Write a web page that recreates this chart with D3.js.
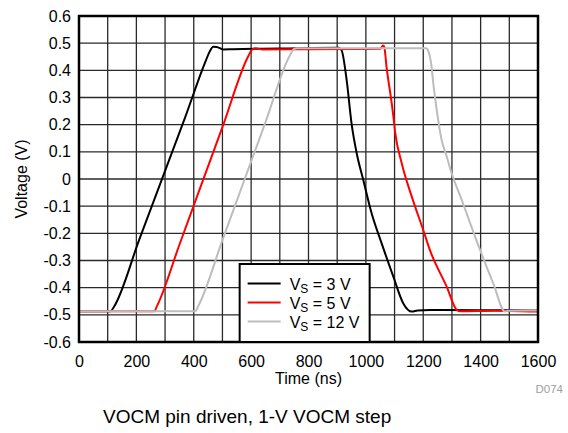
<!DOCTYPE html>
<html>
<head>
<meta charset="utf-8">
<script src="https://cdn.jsdelivr.net/npm/d3@7"></script>
<style>
  html, body { margin: 0; padding: 0; background: #fff; }
  svg { display: block; font-family: "Liberation Sans", Arial, sans-serif; }
</style>
</head>
<body>
<svg id="chart" width="568" height="433"></svg>
<script>
// ---- data ----
const seriesNames = ["3 V", "5 V", "12 V"];
const seriesColors = ["#000000", "#ff0000", "#bdbdbd"];

const time3V = [0, 110, 122, 210, 300, 370, 440, 455, 468, 480, 503, 537, 700, 905, 915, 933, 950, 968, 991, 1020, 1055, 1096, 1130, 1160, 1180, 1223, 1400, 1600];
const volt3V = [-0.487, -0.487, -0.47, -0.223, 0.03, 0.227, 0.43, 0.468, 0.487, 0.486, 0.477, 0.478, 0.48, 0.483, 0.475, 0.364, 0.205, 0.095, -0.004, -0.126, -0.237, -0.36, -0.457, -0.488, -0.484, -0.482, -0.483, -0.484];

const time5V = [0, 262, 273, 350, 500, 590, 603, 615, 640, 800, 1050, 1060, 1064, 1072, 1090, 1096, 1101, 1125, 1160, 1200, 1223, 1282, 1317, 1330, 1450, 1600];
const volt5V = [-0.487, -0.487, -0.465, -0.242, 0.191, 0.452, 0.476, 0.481, 0.477, 0.478, 0.479, 0.491, 0.487, 0.413, 0.279, 0.229, 0.18, 0.058, -0.065, -0.188, -0.261, -0.397, -0.482, -0.487, -0.485, -0.488];

const time12V = [0, 405, 417, 500, 650, 735, 749, 760, 1000, 1210, 1218, 1229, 1235, 1247, 1264, 1282, 1299, 1334, 1398, 1444, 1485, 1495, 1600];
const volt12V = [-0.487, -0.487, -0.465, -0.225, 0.209, 0.455, 0.478, 0.481, 0.481, 0.481, 0.47, 0.413, 0.352, 0.254, 0.144, 0.082, 0.021, -0.077, -0.261, -0.384, -0.488, -0.485, -0.484];

const xTicks = [0, 200, 400, 600, 800, 1000, 1200, 1400, 1600];
const xGrid = [100, 200, 300, 400, 500, 600, 700, 800, 900, 1000, 1100, 1200, 1300, 1400, 1500];
const yTicks = [0.6, 0.5, 0.4, 0.3, 0.2, 0.1, 0, -0.1, -0.2, -0.3, -0.4, -0.5, -0.6];
const yTickLabels = ["0.6", "0.5", "0.4", "0.3", "0.2", "0.1", "0", "-0.1", "-0.2", "-0.3", "-0.4", "-0.5", "-0.6"];

const xTitle = "Time (ns)";
const yTitle = "Voltage (V)";
const caption = "VOCM pin driven, 1-V VOCM step";
const code = "D074";

// ---- layout ----
const W = 568, H = 433;
const margin = { left: 79, top: 16, right: 30, bottom: 91 };
const pw = W - margin.left - margin.right;
const ph = H - margin.top - margin.bottom;

const svg = d3.select("#chart");
const g = svg.append("g").attr("transform", `translate(${margin.left},${margin.top})`);

const x = d3.scaleLinear().domain([0, 1600]).range([0, pw]);
const y = d3.scaleLinear().domain([-0.6, 0.6]).range([ph, 0]);

// grid
g.append("g").selectAll("line.vg").data(xGrid).join("line")
  .attr("x1", d => x(d)).attr("x2", d => x(d))
  .attr("y1", 0).attr("y2", ph)
  .attr("stroke", "#2a2a2a").attr("stroke-width", 1.3);
g.append("g").selectAll("line.hg").data(yTicks.filter(v => v > -0.6 && v < 0.6)).join("line")
  .attr("x1", 0).attr("x2", pw)
  .attr("y1", d => y(d)).attr("y2", d => y(d))
  .attr("stroke", "#2a2a2a").attr("stroke-width", 1.3);

// axes (labels only)
const xAxis = g.append("g").attr("transform", `translate(0,${ph})`)
  .call(d3.axisBottom(x).tickValues(xTicks).tickSize(0).tickPadding(14).tickFormat(d3.format("d")));
const yAxis = g.append("g")
  .call(d3.axisLeft(y).tickValues(yTicks).tickSize(0).tickPadding(8)
    .tickFormat((d, i) => yTickLabels[i]));
[xAxis, yAxis].forEach(a => {
  a.select(".domain").remove();
  a.selectAll("text").attr("font-size", 16).attr("fill", "#000")
    .attr("font-family", "'Liberation Sans', Arial, sans-serif");
});

// series
const line = d3.line().x(d => x(d[0])).y(d => y(d[1])).curve(d3.curveMonotoneX);
const allSeries = [
  d3.zip(time3V, volt3V),
  d3.zip(time5V, volt5V),
  d3.zip(time12V, volt12V)
];
allSeries.forEach((s, i) => {
  g.append("path").datum(s)
    .attr("d", line)
    .attr("fill", "none")
    .attr("stroke", seriesColors[i])
    .attr("stroke-width", 2)
    .attr("stroke-linejoin", "round");
});

// frame
g.append("rect").attr("x", 0).attr("y", 0).attr("width", pw).attr("height", ph)
  .attr("fill", "none").attr("stroke", "#000").attr("stroke-width", 2.5);

// legend
const lg = g.append("g").attr("transform", `translate(${x(560)},${ph - 78})`);
lg.append("rect").attr("x", 0).attr("y", 0).attr("width", 130).attr("height", 78)
  .attr("fill", "#fff").attr("stroke", "#000").attr("stroke-width", 2);
seriesNames.forEach((n, i) => {
  const yy = 19.5 + i * 19;
  lg.append("line").attr("x1", 8).attr("x2", 41).attr("y1", yy).attr("y2", yy)
    .attr("stroke", seriesColors[i]).attr("stroke-width", 2);
  const t = lg.append("text").attr("x", 50).attr("y", yy + 6.5)
    .attr("font-size", 16).attr("fill", "#000");
  t.append("tspan").text("V");
  t.append("tspan").attr("font-size", 12).attr("dy", 3).text("S");
  t.append("tspan").attr("dy", -3).text(" = " + n);
});

// titles
svg.append("text").attr("x", margin.left + pw / 2).attr("y", 384)
  .attr("text-anchor", "middle").attr("font-size", 16).text(xTitle);
svg.append("text").attr("transform", `translate(27,${margin.top + ph / 2}) rotate(-90)`)
  .attr("text-anchor", "middle").attr("font-size", 16).text(yTitle);
svg.append("text").attr("x", 563).attr("y", 393).attr("text-anchor", "end")
  .attr("font-size", 11.5).attr("fill", "#a0a0a0").text(code);
svg.append("text").attr("x", 103).attr("y", 423)
  .attr("font-size", 19).attr("fill", "#000").text(caption);
</script>
</body>
</html>
